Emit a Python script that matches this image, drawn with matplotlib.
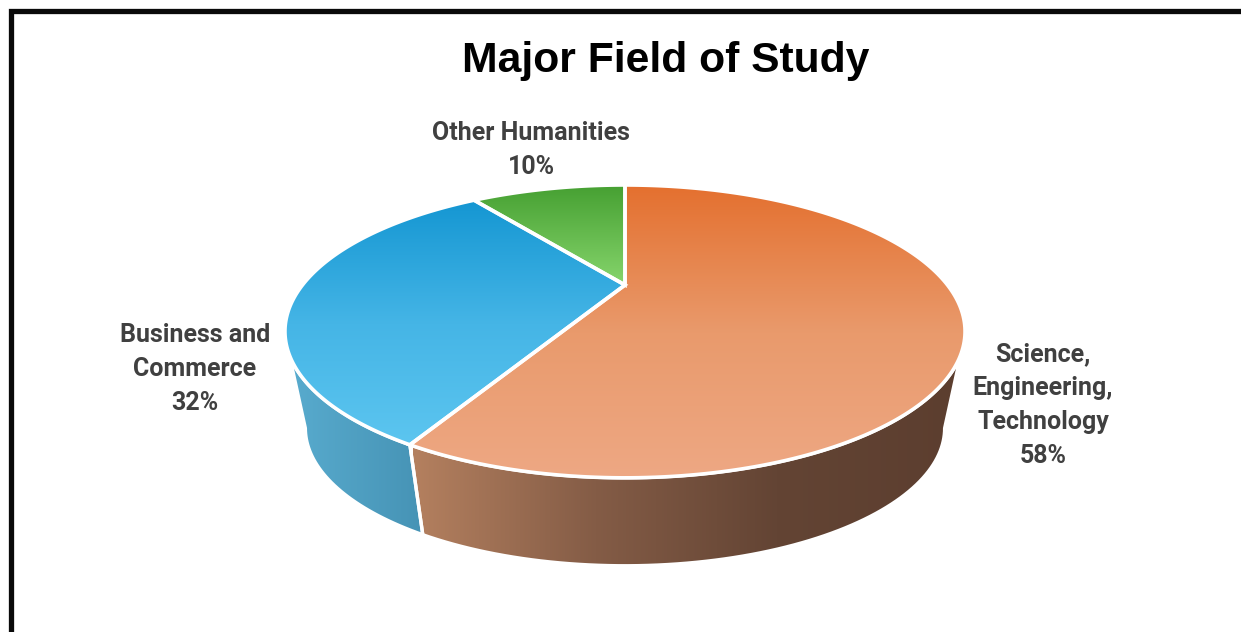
import numpy as np
import matplotlib
matplotlib.use('Agg')
from matplotlib import pyplot as plt
from matplotlib.colors import LinearSegmentedColormap
from matplotlib.patches import Polygon

title = 'Major Field of Study'
labels = ['Science,\nEngineering,\nTechnology\n58%', 'Business and\nCommerce\n32%', 'Other Humanities\n10%']
values = [58, 32, 10]
top_colors = [['#E4702F', '#E99A6C', '#EEA884'], ['#1496D2', '#45B5E6', '#5DC6F0'], ['#46A032', '#86D56C']]
side_colors = [['#B4805F', '#845C46', '#634434', '#5C3E2F'], ['#58ABCE', '#4693B5']]

# pie geometry in pixels, the tilt makes the centre sit above the ellipse middle
cx, cy = 625, 285
d, c, b = 322.5, 131.7, 0.317
low_scale, low_cy = 0.94, 384.5


def project(t, scale=1.0, y0=cy):
    # t is degrees clockwise from the top of the pie
    r = np.radians(t)
    den = 1 + b * np.cos(r)
    return np.column_stack([cx + scale * d * np.sin(r) / den, y0 - scale * c * np.cos(r) / den])


def gradient(ax, patch, colors, extent, horizontal=False):
    cmap = LinearSegmentedColormap.from_list('g', colors)
    g = np.linspace(0, 1, 256)
    g = g.reshape(1, -1) if horizontal else g.reshape(-1, 1)
    im = ax.imshow(g, cmap=cmap, extent=extent, aspect='auto', origin='upper', zorder=patch.get_zorder())
    im.set_clip_path(patch)


fig = plt.figure(figsize=(12.41, 6.32), dpi=100)
ax = fig.add_axes([0, 0, 1, 1])

edges = np.cumsum([0] + values) / sum(values) * 360

# side walls, only the part facing the viewer
wall_right, wall_left = 117, 243
low_right, low_left = 108.5, 251.5
split = edges[1]
t1 = np.linspace(wall_right, split, 80)
t2 = np.linspace(split, low_right, 80)
brown = np.vstack([project(t1), project(t2, low_scale, low_cy)])
t1 = np.linspace(split, wall_left, 40)
t2 = np.linspace(low_left, split, 40)
blue = np.vstack([project(t1), project(t2, low_scale, low_cy)])

for pts, cols, ext in [(brown, side_colors[0], (413, 960, 600, 300)), (blue, side_colors[1], (290, 424, 600, 300))]:
    p = Polygon(pts, closed=True, facecolor='none', edgecolor='none', zorder=2)
    ax.add_patch(p)
    gradient(ax, p, cols, ext, horizontal=True)
    ax.add_patch(Polygon(pts, closed=True, facecolor='none', edgecolor='white', lw=2.4, zorder=3))

# top face
extents = [(280, 970, 480, 185), (280, 970, 450, 198), (470, 630, 285, 185)]
for i in range(len(values)):
    t = np.linspace(edges[i], edges[i + 1], 200)
    pts = np.vstack([[[cx, cy]], project(t)])
    p = Polygon(pts, closed=True, facecolor='none', edgecolor='none', zorder=4)
    ax.add_patch(p)
    gradient(ax, p, top_colors[i], extents[i])
    ax.add_patch(Polygon(pts, closed=True, facecolor='none', edgecolor='white', lw=2.6, joinstyle='miter', zorder=5))

ax.text(666, 61, title, ha='center', va='center', fontsize=30.7, fontweight='bold', family='Liberation Sans', color='black')

label_pos = [(1043, 405), (195, 369), (531, 150)]
for s, (x, y) in zip(labels, label_pos):
    ax.text(x, y, s, ha='center', va='center', fontsize=18, fontweight='bold', family='Roboto', color='#404040', linespacing=1.52)

# outer frame only shows on top and left
ax.plot([11, 11, 1241], [632, 11, 11], color='#0a0a0a', lw=3.8, solid_joinstyle='miter', zorder=6)

ax.set_xlim(0, 1241)
ax.set_ylim(632, 0)
ax.axis('off')
fig.savefig('out.png', dpi=100, facecolor='white')
